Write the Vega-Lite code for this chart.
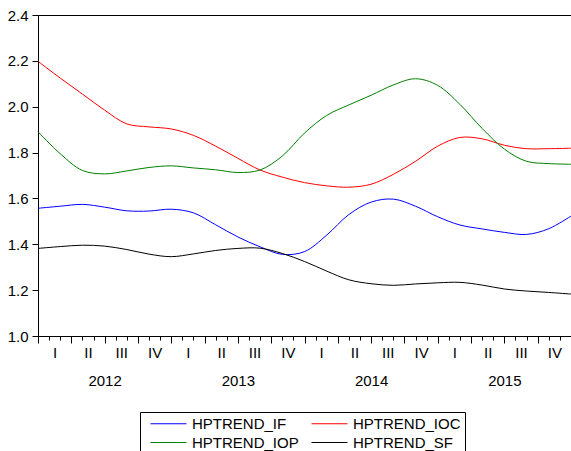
{
  "$schema": "https://vega.github.io/schema/vega-lite/v6.json",
  "width": 533,
  "height": 321,
  "autosize": {"type": "none"},
  "padding": {"left": 38, "top": 15, "right": 0, "bottom": 115},
  "config": {
    "font": "Liberation Sans",
    "view": {"stroke": "black", "strokeWidth": 1},
    "axis": {"labelColor": "black", "tickColor": "black", "domainColor": "black", "labelFontSize": 15, "grid": false, "title": null}
  },
  "data": {
    "values": [
      {"t": 0, "HPTREND_IF": 1.557, "HPTREND_IOC": 2.198, "HPTREND_IOP": 1.891, "HPTREND_SF": 1.382},
      {"t": 2, "HPTREND_IF": 1.566, "HPTREND_IOC": 2.125, "HPTREND_IOP": 1.795, "HPTREND_SF": 1.390},
      {"t": 4, "HPTREND_IF": 1.574, "HPTREND_IOC": 2.055, "HPTREND_IOP": 1.722, "HPTREND_SF": 1.396},
      {"t": 6, "HPTREND_IF": 1.562, "HPTREND_IOC": 1.985, "HPTREND_IOP": 1.707, "HPTREND_SF": 1.392},
      {"t": 8, "HPTREND_IF": 1.546, "HPTREND_IOC": 1.925, "HPTREND_IOP": 1.720, "HPTREND_SF": 1.377},
      {"t": 10, "HPTREND_IF": 1.545, "HPTREND_IOC": 1.912, "HPTREND_IOP": 1.735, "HPTREND_SF": 1.357},
      {"t": 12, "HPTREND_IF": 1.553, "HPTREND_IOC": 1.903, "HPTREND_IOP": 1.742, "HPTREND_SF": 1.346},
      {"t": 14, "HPTREND_IF": 1.537, "HPTREND_IOC": 1.875, "HPTREND_IOP": 1.733, "HPTREND_SF": 1.358},
      {"t": 16, "HPTREND_IF": 1.485, "HPTREND_IOC": 1.828, "HPTREND_IOP": 1.725, "HPTREND_SF": 1.373},
      {"t": 18, "HPTREND_IF": 1.432, "HPTREND_IOC": 1.775, "HPTREND_IOP": 1.713, "HPTREND_SF": 1.382},
      {"t": 20, "HPTREND_IF": 1.389, "HPTREND_IOC": 1.724, "HPTREND_IOP": 1.724, "HPTREND_SF": 1.383},
      {"t": 22, "HPTREND_IF": 1.356, "HPTREND_IOC": 1.693, "HPTREND_IOP": 1.785, "HPTREND_SF": 1.360},
      {"t": 24, "HPTREND_IF": 1.368, "HPTREND_IOC": 1.669, "HPTREND_IOP": 1.885, "HPTREND_SF": 1.325},
      {"t": 26, "HPTREND_IF": 1.440, "HPTREND_IOC": 1.655, "HPTREND_IOP": 1.962, "HPTREND_SF": 1.283},
      {"t": 28, "HPTREND_IF": 1.530, "HPTREND_IOC": 1.649, "HPTREND_IOP": 2.008, "HPTREND_SF": 1.245},
      {"t": 30, "HPTREND_IF": 1.584, "HPTREND_IOC": 1.662, "HPTREND_IOP": 2.050, "HPTREND_SF": 1.228},
      {"t": 32, "HPTREND_IF": 1.597, "HPTREND_IOC": 1.705, "HPTREND_IOP": 2.095, "HPTREND_SF": 1.221},
      {"t": 34, "HPTREND_IF": 1.566, "HPTREND_IOC": 1.762, "HPTREND_IOP": 2.122, "HPTREND_SF": 1.227},
      {"t": 36, "HPTREND_IF": 1.520, "HPTREND_IOC": 1.828, "HPTREND_IOP": 2.093, "HPTREND_SF": 1.232},
      {"t": 38, "HPTREND_IF": 1.484, "HPTREND_IOC": 1.866, "HPTREND_IOP": 2.010, "HPTREND_SF": 1.234},
      {"t": 40, "HPTREND_IF": 1.467, "HPTREND_IOC": 1.860, "HPTREND_IOP": 1.905, "HPTREND_SF": 1.222},
      {"t": 42, "HPTREND_IF": 1.452, "HPTREND_IOC": 1.832, "HPTREND_IOP": 1.815, "HPTREND_SF": 1.205},
      {"t": 44, "HPTREND_IF": 1.443, "HPTREND_IOC": 1.817, "HPTREND_IOP": 1.762, "HPTREND_SF": 1.196},
      {"t": 46, "HPTREND_IF": 1.468, "HPTREND_IOC": 1.817, "HPTREND_IOP": 1.752, "HPTREND_SF": 1.190},
      {"t": 48, "HPTREND_IF": 1.523, "HPTREND_IOC": 1.819, "HPTREND_IOP": 1.749, "HPTREND_SF": 1.183}
    ]
  },
  "transform": [
    {"fold": ["HPTREND_IF", "HPTREND_IOC", "HPTREND_IOP", "HPTREND_SF"], "as": ["series", "value"]}
  ],
  "resolve": {"axis": {"x": "independent"}},
  "layer": [
    {
      "mark": {"type": "line", "interpolate": "catmull-rom", "strokeWidth": 1},
      "encoding": {
        "x": {
          "field": "t", "type": "quantitative",
          "scale": {"domain": [0, 48], "nice": false, "zero": false},
          "axis": {
            "orient": "bottom",
            "values": [0,1,2,3,4,5,6,7,8,9,10,11,12,13,14,15,16,17,18,19,20,21,22,23,24,25,26,27,28,29,30,31,32,33,34,35,36,37,38,39,40,41,42,43,44,45,46,47,48],
            "labels": false,
            "tickSize": {"condition": {"test": "datum.value % 3 === 0", "value": 7}, "value": 4}
          }
        },
        "y": {
          "field": "value", "type": "quantitative",
          "scale": {"domain": [1.0, 2.4], "nice": false, "zero": false},
          "axis": {"values": [1.0, 1.2, 1.4, 1.6, 1.8, 2.0, 2.2, 2.4], "format": ".1f", "tickSize": 6, "labelPadding": 4}
        },
        "color": {
          "field": "series", "type": "nominal",
          "scale": {"domain": ["HPTREND_IF", "HPTREND_IOC", "HPTREND_IOP", "HPTREND_SF"], "range": ["#0000ff", "#ff0000", "#008000", "#000000"]},
          "legend": {
            "title": null,
            "orient": "none",
            "legendX": 102,
            "legendY": 397,
            "direction": "horizontal",
            "columns": 2,
            "symbolType": "M-1,0H5",
            "symbolSize": 144,
            "symbolStrokeWidth": 1,
            "symbolFillColor": "transparent",
            "symbolOffset": 5,
            "labelFontSize": 15,
            "labelColor": "black",
            "labelOffset": 28,
            "columnPadding": 6,
            "rowPadding": 3,
            "padding": 4,
            "strokeColor": "black",
            "fillColor": "white"
          }
        }
      }
    },
    {
      "mark": {"type": "point", "opacity": 0, "size": 0},
      "encoding": {
        "x": {
          "field": "t", "type": "quantitative",
          "axis": {
            "orient": "bottom",
            "values": [1.5,4.5,7.5,10.5,13.5,16.5,19.5,22.5,25.5,28.5,31.5,34.5,37.5,40.5,43.5,46.5],
            "labelExpr": "floor(datum.value / 3) % 4 == 0 ? 'I' : floor(datum.value / 3) % 4 == 1 ? 'II' : floor(datum.value / 3) % 4 == 2 ? 'III' : 'IV'",
            "ticks": false,
            "domain": false,
            "labelPadding": 9
          }
        },
        "y": {"field": "value", "type": "quantitative"}
      }
    },
    {
      "mark": {"type": "point", "opacity": 0, "size": 0},
      "encoding": {
        "x": {
          "field": "t", "type": "quantitative",
          "axis": {
            "orient": "bottom",
            "values": [6, 18, 30, 42],
            "labelExpr": "datum.value == 6 ? '2012' : datum.value == 18 ? '2013' : datum.value == 30 ? '2014' : '2015'",
            "ticks": false,
            "domain": false,
            "labelPadding": 37
          }
        },
        "y": {"field": "value", "type": "quantitative"}
      }
    }
  ]
}
